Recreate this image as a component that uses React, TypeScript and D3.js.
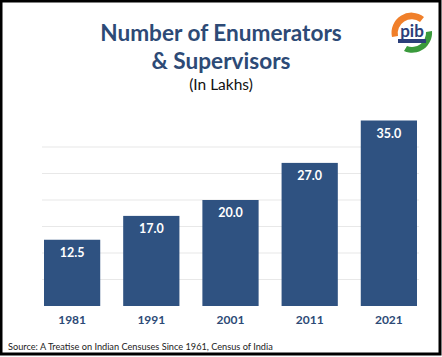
import React from "react";
import * as d3 from "d3";

const years = ["1981", "1991", "2001", "2011", "2021"];
const values = [12.5, 17.0, 20.0, 27.0, 35.0];
const gridTicks = [5, 10, 15, 20, 25, 30];
const titleLines = ["Number of Enumerators", "& Supervisors"];
const subtitle = "(In Lakhs)";
const sourceText = "Source: A Treatise on Indian Censuses Since 1961, Census of India";

const W = 442;
const H = 357;
const NAVY = "#2f5281";
const TITLE = "#2d4a76";
const FONT = "Lato, 'Open Sans', sans-serif";

export default function App() {
  const x = d3.scaleBand<string>().domain(years).range([44, 417]).paddingInner(0.29).paddingOuter(0);
  const y = d3.scaleLinear().domain([0, 30]).range([306, 147]);

  return (
    <svg width={W} height={H} style={{ position: "fixed", left: 0, top: 0, display: "block" }} fontFamily={FONT}>
      <rect x={0} y={0} width={W} height={H} fill="#ffffff" />
      {gridTicks.map((t) => (
        <line key={t} x1={42} x2={419} y1={y(t)} y2={y(t)} stroke="#e8e8e8" strokeWidth={1.2} />
      ))}
      {years.map((yr, i) => (
        <g key={yr}>
          <rect x={x(yr)} y={y(values[i])} width={x.bandwidth()} height={y(0) - y(values[i])} fill={NAVY} />
          <text x={(x(yr) as number) + x.bandwidth() / 2} y={y(values[i]) + 17} textAnchor="middle" fill="#ffffff" fontSize={12.5} fontWeight={700}>
            {values[i].toFixed(1)}
          </text>
          <text x={(x(yr) as number) + x.bandwidth() / 2} y={323.5} textAnchor="middle" fill={TITLE} fontSize={12} fontWeight={700}>
            {yr}
          </text>
        </g>
      ))}
      {titleLines.map((t, i) => (
        <text key={t} x={221} y={41 + i * 28} textAnchor="middle" fill={TITLE} fontSize={22.6} fontWeight={700}>
          {t}
        </text>
      ))}
      <text x={221} y={90} textAnchor="middle" fill="#111" fontSize={15.5}>
        {subtitle}
      </text>
      <text x={8} y={350} fill="#222" fontSize={9.2}>
        {sourceText}
      </text>
      {/* PIB logo approximation */}
      <g transform="translate(412,33)">
        <circle r={21} fill="#ffffff" />
        <path d="M -20 4 A 20 20 0 0 1 12 -16 L 8 -11 A 14 14 0 0 0 -14 3 Z" fill="#f07f2a" />
        <path d="M 20 -2 A 20 20 0 0 1 -8 18 L -5 13 A 14 14 0 0 0 14 -1 Z" fill="#3a9a3c" />
        <text x={0} y={4} textAnchor="middle" fill="#2b3f7a" fontSize={17} fontWeight={700} fontFamily="Lato, sans-serif">pib</text>
        <rect x={-14} y={6} width={28} height={4} fill="#2b3f7a" />
      </g>
      <rect x={1} y={1} width={W - 3} height={H - 4} fill="none" stroke="#000" strokeWidth={3} />
    </svg>
  );
}
